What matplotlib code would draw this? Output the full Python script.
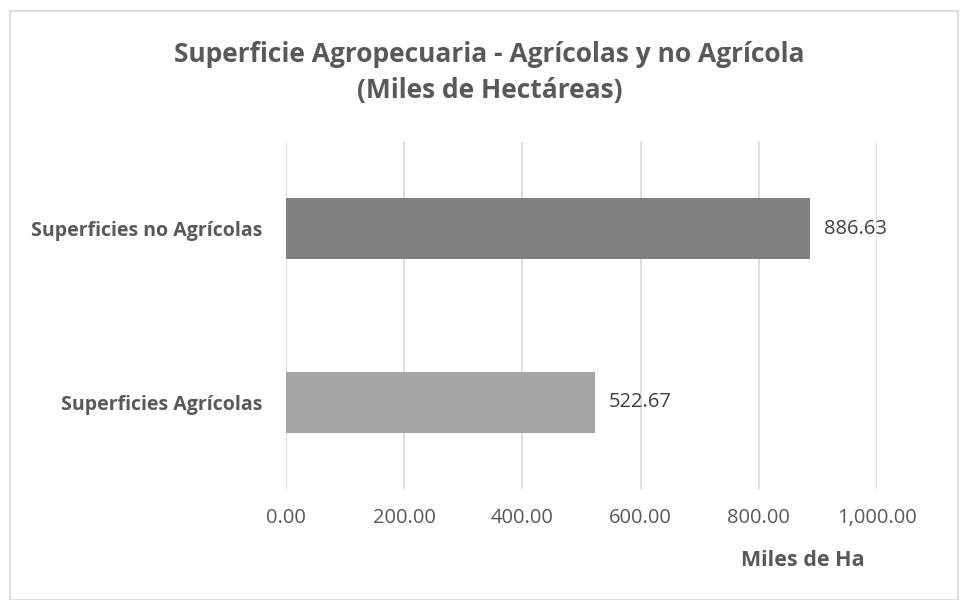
import matplotlib
matplotlib.use("Agg")
import matplotlib.pyplot as plt
from matplotlib.patches import Rectangle

categories = ["Superficies Agrícolas", "Superficies no Agrícolas"]
values = [522.67, 886.63]
colors = ["#a5a5a5", "#7f7f7f"]
xticks = [0, 200, 400, 600, 800, 1000]

plt.rcParams['font.family'] = ['Open Sans', 'DejaVu Sans']
txt = "#595959"

fig = plt.figure(figsize=(9.6, 6), dpi=100)
ax = fig.add_axes([0.2979, 0.185, 0.6156, 0.5783])

# outer chart border
fig.patches.append(Rectangle((10 / 960, 0.0), 948 / 960, 1 - 11 / 600,
                             transform=fig.transFigure, fill=False,
                             edgecolor="#d9d9d9", linewidth=1.2))

y = range(len(categories))
ax.barh(y, values, height=0.35, color=colors, zorder=3)
for i, v in zip(y, values):
    ax.text(v + 24, i, f"{v:,.2f}", va="center", ha="left",
            fontsize=14.5, color="#404040")

ax.set_xlim(0, 1000)
ax.set_ylim(-0.5, 1.5)
ax.set_xticks(xticks)
ax.set_xticklabels([f"{t:,.2f}" for t in xticks], fontsize=14.5, color=txt)
ax.set_yticks(list(y))
ax.set_yticklabels(categories, fontsize=14, fontweight="bold", color=txt)
ax.tick_params(axis="both", length=0)
ax.tick_params(axis="x", pad=14)
ax.tick_params(axis="y", pad=17)
ax.grid(axis="x", color="#d9d9d9", linewidth=1.2, zorder=0)
for s in ax.spines.values():
    s.set_visible(False)

ax.set_xlabel("Miles de Ha", fontsize=15.5, fontweight="bold", color=txt)
ax.xaxis.set_label_coords(0.875, -0.175)

fig.text(0.51, 0.879, "Superficie Agropecuaria - Agrícolas y no Agrícola\n(Miles de Hectáreas)",
         ha="center", va="center", fontsize=19, fontweight="bold", color=txt,
         linespacing=1.4)

fig.savefig("out.png", dpi=100)
